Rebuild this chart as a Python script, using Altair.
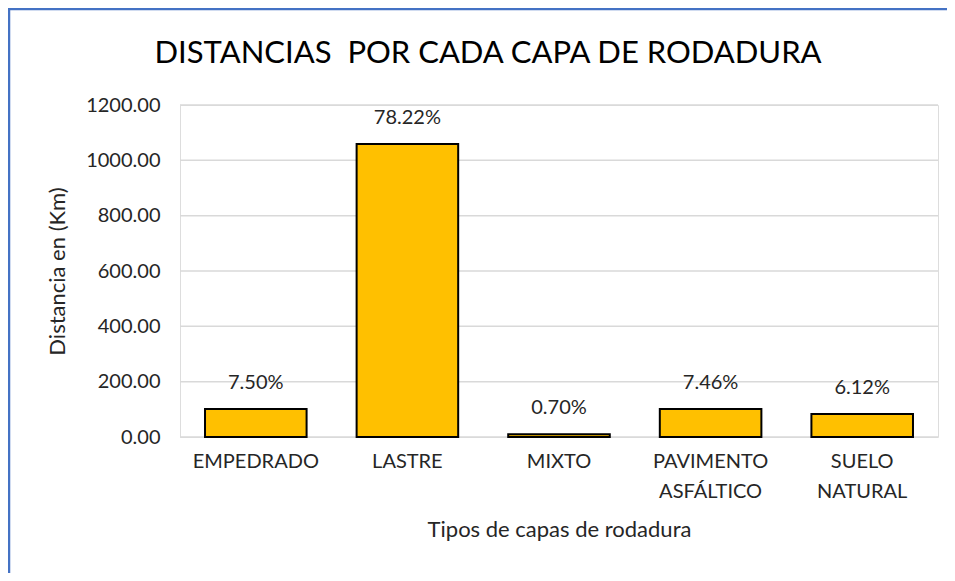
import altair as alt
import pandas as pd

categorias = ["EMPEDRADO", "LASTRE", "MIXTO", "PAVIMENTO ASFÁLTICO", "SUELO NATURAL"]
distancias_km = [101.6, 1059.4, 9.5, 101.0, 82.9]
porcentajes = ["7.50%", "78.22%", "0.70%", "7.46%", "6.12%"]
y_ticks = [0, 200, 400, 600, 800, 1000, 1200]
titulo = ["DISTANCIAS\u00a0 POR CADA CAPA DE RODADURA"]

df = pd.DataFrame({"cat": categorias, "dist": distancias_km, "pct": porcentajes})
df_t = pd.DataFrame({"t": titulo})
df_g = pd.DataFrame({"dist": y_ticks})

FONT = "Lato"
TXT = "#262626"

x_enc = alt.X(
    "cat:N",
    sort=categorias,
    title="Tipos de capas de rodadura",
    scale=alt.Scale(paddingInner=0.33, paddingOuter=0.165),
    axis=alt.Axis(
        labelAngle=0,
        labelExpr="split(datum.label, ' ')",
        labelFontSize=20,
        labelLineHeight=30,
        labelPadding=14,
        labelColor=TXT,
        labelFont=FONT,
        ticks=False,
        domain=False,
        grid=False,
        titleFontSize=22,
        titleFont=FONT,
        titleColor=TXT,
        titleFontWeight="normal",
        titlePadding=18,
    ),
)
y_enc = alt.Y(
    "dist:Q",
    title="Distancia en (Km)",
    scale=alt.Scale(domain=[0, 1200]),
    axis=alt.Axis(
        values=y_ticks,
        format=".2f",
        labelFontSize=20,
        labelFont=FONT,
        labelColor=TXT,
        labelPadding=20,
        ticks=False,
        domain=False,
        grid=False,
        titleFontSize=22,
        titleFont=FONT,
        titleColor=TXT,
        titleFontWeight="normal",
        titlePadding=16,
    ),
)

grid = alt.Chart(df_g).mark_rule(color="#D9D9D9", strokeWidth=1.5).encode(
    y=y_enc, x=alt.value(0), x2=alt.value(758)
)

bars = alt.Chart(df).mark_bar(
    color="#FFC000", stroke="#000000", strokeWidth=2
).encode(x=x_enc, y=y_enc)

labels = alt.Chart(df).mark_text(
    baseline="middle", dy=-26, fontSize=20, font=FONT, color=TXT
).encode(x=x_enc, y=y_enc, text="pct:N")

title_mark = alt.Chart(df_t).mark_text(
    baseline="middle", align="center", fontSize=31, font=FONT, color="#000000"
).encode(x=alt.value(308), y=alt.value(-51), text="t:N")

border_left = alt.Chart(df_t).mark_rule(color="#4472C4", strokeWidth=2.5).encode(
    x=alt.value(-171), y=alt.value(-97), y2=alt.value(480)
)
border_top = alt.Chart(df_t).mark_rule(color="#4472C4", strokeWidth=2.5).encode(
    x=alt.value(-172), x2=alt.value(770), y=alt.value(-96)
)

chart = (
    alt.layer(grid, bars, labels, title_mark, border_left, border_top)
    .properties(
        width=758,
        height=332,
        autosize=alt.AutoSizeParams(type="none"),
        padding={"left": 172, "top": 97, "right": 9, "bottom": 136},
    )
    .configure_view(strokeWidth=0, stroke="transparent")
    .configure(background="white")
)

chart.save("out.html", embed_options={"renderer": "svg", "actions": False})
